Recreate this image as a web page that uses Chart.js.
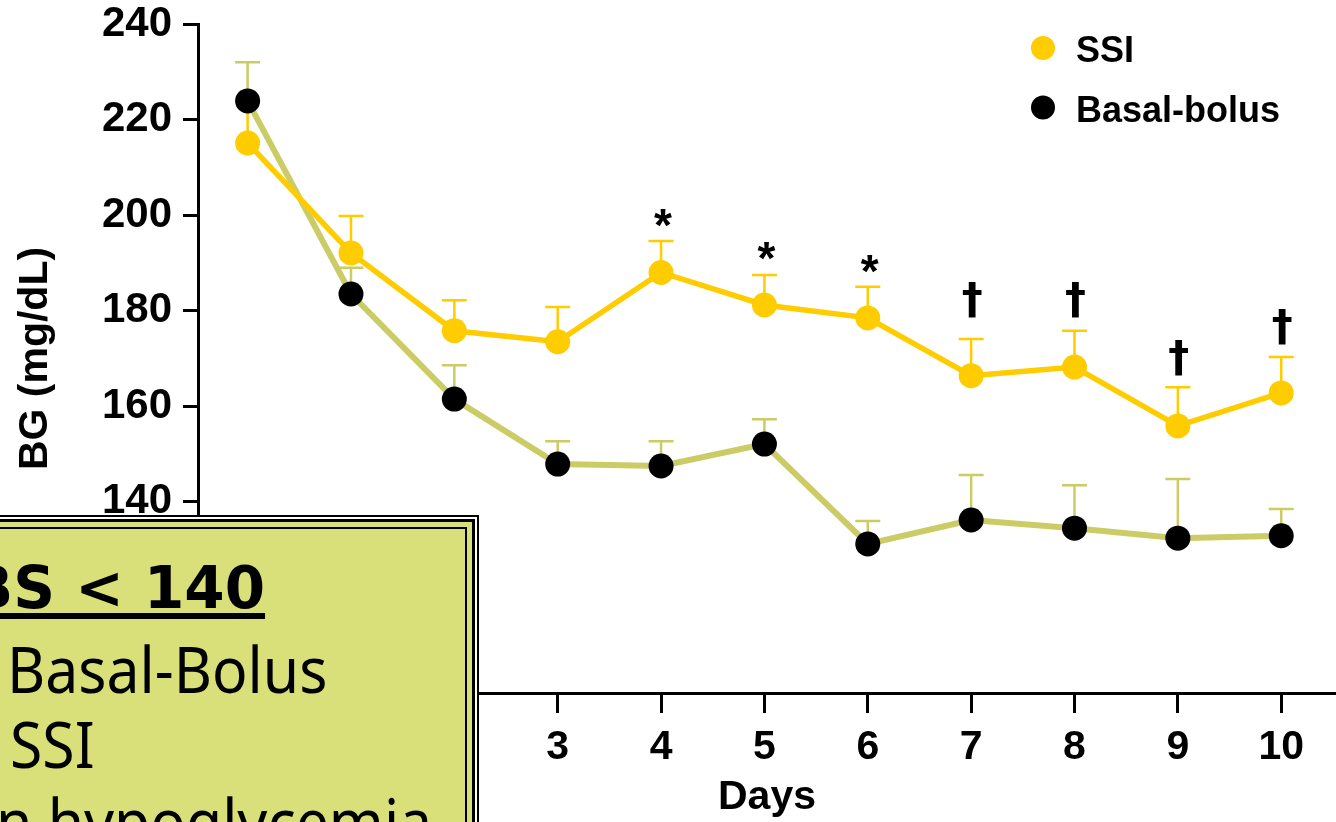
<!DOCTYPE html>
<html>
<head>
<meta charset="utf-8">
<script src="https://cdn.jsdelivr.net/npm/chart.js@4.4.0/dist/chart.umd.min.js"></script>
<style>
  html, body { margin: 0; padding: 0; background: #fff; }
  #wrap { position: relative; width: 1336px; height: 822px; overflow: hidden; }
  #c { position: absolute; left: 0; top: 0; }
  .bx { box-sizing: border-box; width: 100%; height: 100%; }
  #box { position: absolute; left: -40px; top: 515px; width: 519px; height: 360px; box-sizing: border-box; border: 2px solid #000; }
  #b1 { border: 2px solid #fff; }
  #b2 { border: 3px solid #000; }
  #b3 { border: 5px solid #d9e07a; }
  #b4 { border: 2px solid #000; background: #d9e07a; }
  .t { position: absolute; white-space: nowrap; color: #000; line-height: 1; }
  #t0 { left: -31px; top: 554px; font: bold 58px "DejaVu Sans", sans-serif; text-decoration: underline; text-decoration-thickness: 6px; text-underline-offset: 5px; }
  .reg { font: 64px "Noto Sans", sans-serif; transform-origin: 0 0; transform: scaleX(0.92); }
  #t1 { left: 7px; top: 625px; }
  #t2 { left: 10px; top: 700px; }
  #t3 { left: -4px; top: 777px; }
</style>
</head>
<body>
<div id="wrap">
  <canvas id="c" width="1336" height="822"></canvas>
  <div id="box"><div id="b1" class="bx"><div id="b2" class="bx"><div id="b3" class="bx"><div id="b4" class="bx"></div></div></div></div></div>
  <div class="t" id="t0">BS &lt; 140</div>
  <div class="t reg" id="t1">Basal-Bolus</div>
  <div class="t reg" id="t2">SSI</div>
  <div class="t reg" id="t3">n hypoglycemia</div>
</div>
<script>
// ---- data ----
const days = [0, 1, 2, 3, 4, 5, 6, 7, 8, 9, 10];
const ssiMean  = [215.1, 192.1, 175.8, 173.5, 188.0, 181.2, 178.5, 166.4, 168.2, 155.9, 162.8];
const ssiUpper = [224.0, 199.8, 182.2, 180.8, 194.6, 187.5, 185.0, 174.1, 175.8, 164.0, 170.3];
const bbMean   = [223.9, 183.5, 161.5, 147.9, 147.5, 152.1, 131.2, 136.2, 134.5, 132.4, 132.9];
const bbUpper  = [232.0, 189.0, 168.6, 152.7, 152.7, 157.3, 136.0, 145.6, 143.5, 144.8, 138.5];
// significance marks: day, symbol, level (mg/dL) of the bottom of the mark
const sigDays   = [4, 5, 6, 7, 8, 9, 10];
const sigMarks  = ['*', '*', '*', '\u2020', '\u2020', '\u2020', '\u2020'];
const sigLevels = [197.5, 190.6, 187.9, 178.5, 178.5, 166.3, 172.8];
const seriesNames = ['SSI', 'Basal-bolus'];
const yTickValues = [100, 120, 140, 160, 180, 200, 220, 240];
const xTickValues = days;

// ---- styles ----
const SSI_COLOR = '#ffcc00';
const BB_LINE = '#cccc66';
const BB_POINT = '#000000';
const FONT = '"Liberation Sans", Arial, sans-serif';

const errorBars = {
  id: 'errorBars',
  beforeDatasetsDraw(chart) {
    const ctx = chart.ctx, ys = chart.scales.y;
    chart.data.datasets.forEach((ds, i) => {
      const meta = chart.getDatasetMeta(i);
      ctx.save();
      ctx.strokeStyle = ds.errColor;
      ctx.lineWidth = 2.5;
      meta.data.forEach((pt, j) => {
        const up = ys.getPixelForValue(ds.upper[j]);
        ctx.beginPath();
        ctx.moveTo(pt.x, pt.y);
        ctx.lineTo(pt.x, up);
        ctx.moveTo(pt.x - 12.5, up);
        ctx.lineTo(pt.x + 12.5, up);
        ctx.stroke();
      });
      ctx.restore();
    });
  }
};

const sigMarksPlugin = {
  id: 'sigMarks',
  afterDatasetsDraw(chart) {
    const ctx = chart.ctx, xs = chart.scales.x, ys = chart.scales.y;
    ctx.save();
    ctx.fillStyle = '#000';
    ctx.textAlign = 'center';
    ctx.textBaseline = 'alphabetic';
    sigDays.forEach((d, k) => {
      const m = sigMarks[k];
      const px = xs.getPixelForValue(d);
      const bottom = ys.getPixelForValue(sigLevels[k]);
      if (m === '*') {
        ctx.font = 'bold 46px ' + FONT;
      } else {
        ctx.font = 'bold 42px "DejaVu Sans", sans-serif';
      }
      const mt = ctx.measureText(m);
      ctx.fillText(m, px + (m === '*' ? 2 : 1), bottom - mt.actualBoundingBoxDescent);
    });
    ctx.restore();
  }
};

const legendPlugin = {
  id: 'customLegend',
  afterDraw(chart) {
    const ctx = chart.ctx;
    const lx = 1043, ly = 48, gap = 59.5;
    ctx.save();
    chart.data.datasets.forEach((ds, i) => {
      const cy = ly + i * gap;
      ctx.beginPath();
      ctx.fillStyle = ds.pointBackgroundColor;
      ctx.arc(lx, cy, 12, 0, Math.PI * 2);
      ctx.fill();
      ctx.fillStyle = '#000';
      ctx.font = 'bold 36px ' + FONT;
      ctx.textAlign = 'left';
      ctx.textBaseline = 'alphabetic';
      ctx.fillText(ds.label, 1076, cy + 14);
    });
    ctx.restore();
  }
};

function noPad(s) { s.paddingTop = 0; s.paddingBottom = 0; s.paddingLeft = 0; s.paddingRight = 0; }

new Chart(document.getElementById('c'), {
  type: 'line',
  data: {
    datasets: [
      {
        label: seriesNames[0],
        data: days.map((d, i) => ({ x: d, y: ssiMean[i] })),
        upper: ssiUpper,
        errColor: SSI_COLOR,
        borderColor: SSI_COLOR,
        borderWidth: 5.5,
        pointBackgroundColor: SSI_COLOR,
        pointBorderWidth: 0,
        pointRadius: 12.5,
        tension: 0,
        clip: false
      },
      {
        label: seriesNames[1],
        data: days.map((d, i) => ({ x: d, y: bbMean[i] })),
        upper: bbUpper,
        errColor: BB_LINE,
        borderColor: BB_LINE,
        borderWidth: 6,
        pointBackgroundColor: BB_POINT,
        pointBorderWidth: 0,
        pointRadius: 12.5,
        tension: 0,
        clip: false
      }
    ]
  },
  options: {
    responsive: false,
    animation: false,
    events: [],
    layout: { autoPadding: false, padding: { top: 24, right: 0, bottom: 0, left: 0 } },
    plugins: { legend: { display: false }, tooltip: { enabled: false } },
    scales: {
      x: {
        type: 'linear',
        min: -0.48,
        max: 10.53,
        afterFit: s => { s.height = 129; noPad(s); },
        afterBuildTicks: s => { s.ticks = xTickValues.map(v => ({ value: v })); },
        grid: { display: true, drawOnChartArea: false, drawTicks: true, tickLength: 20, tickWidth: 3, tickColor: '#000' },
        border: { display: true, color: '#000', width: 3 },
        ticks: { color: '#000', font: { family: FONT, size: 41, weight: 'bold' }, padding: 10, maxRotation: 0, autoSkip: false },
        title: { display: true, text: 'Days', color: '#000', font: { family: FONT, size: 41, weight: 'bold' }, padding: { top: 0, bottom: 0 } }
      },
      y: {
        min: 100,
        max: 240,
        afterFit: s => { s.width = 198; noPad(s); },
        afterBuildTicks: s => { s.ticks = yTickValues.map(v => ({ value: v })); },
        grid: { display: true, drawOnChartArea: false, drawTicks: true, tickLength: 15, tickWidth: 3, tickColor: '#000' },
        border: { display: true, color: '#000', width: 3 },
        ticks: { color: '#000', font: { family: FONT, size: 42, weight: 'bold' }, padding: 11 },
        title: { display: true, text: 'BG (mg/dL)', color: '#000', font: { family: FONT, size: 41, weight: 'bold' }, padding: { top: 11, bottom: 0 } }
      }
    }
  },
  plugins: [errorBars, sigMarksPlugin, legendPlugin]
});
</script>
</body>
</html>
